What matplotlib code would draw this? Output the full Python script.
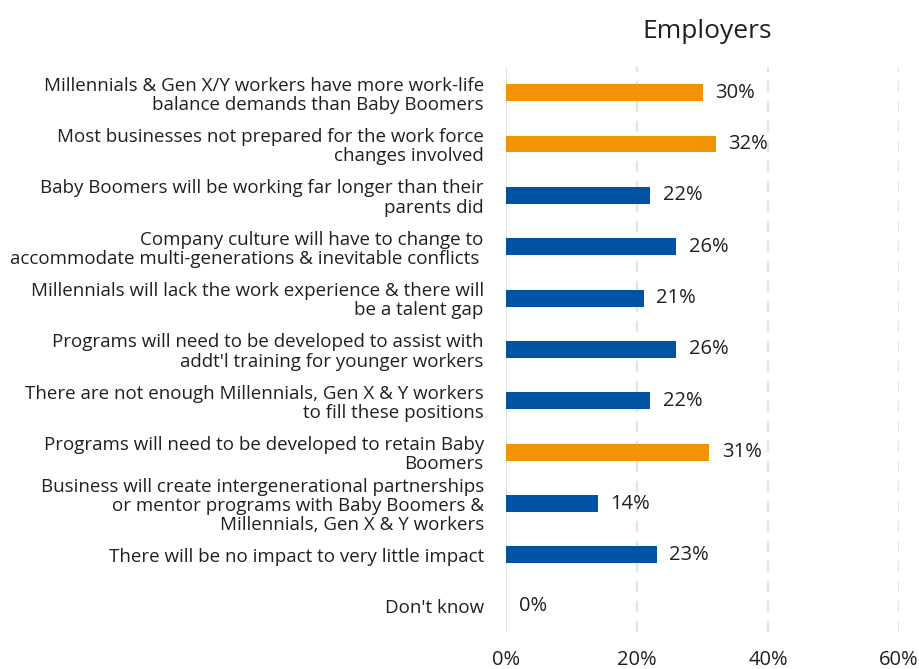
import matplotlib.pyplot as plt

plt.rcParams['font.family'] = ['Open Sans', 'DejaVu Sans']

labels = [
    "Millennials & Gen X/Y workers have more work-life\nbalance demands than Baby Boomers",
    "Most businesses not prepared for the work force\nchanges involved",
    "Baby Boomers will be working far longer than their\nparents did",
    "Company culture will have to change to\naccommodate multi-generations & inevitable conflicts ",
    "Millennials will lack the work experience & there will\nbe a talent gap",
    "Programs will need to be developed to assist with\naddt'l training for younger workers",
    "There are not enough Millennials, Gen X & Y workers\nto fill these positions",
    "Programs will need to be developed to retain Baby\nBoomers",
    "Business will create intergenerational partnerships\nor mentor programs with Baby Boomers &\nMillennials, Gen X & Y workers",
    "There will be no impact to very little impact",
    "Don't know",
]
values = [30, 32, 22, 26, 21, 26, 22, 31, 14, 23, 0]
highlight = [True, True, False, False, False, False, False, True, False, False, False]
xticks = [0, 20, 40, 60]

ORANGE = '#f29400'
BLUE = '#0052a2'
TEXT = '#231f20'

fig = plt.figure(figsize=(9.19, 6.69), dpi=100)
ax = fig.add_axes([0.5506, 0.0553, 0.4277, 0.8446])

ypos = list(range(len(labels)))
colors = [ORANGE if h else BLUE for h in highlight]
ax.barh(ypos, values, height=0.33, color=colors, zorder=3)

for y, v in zip(ypos, values):
    ax.annotate(f"{v}%", (v, y), xytext=(9, 0), textcoords='offset points',
                ha='left', va='center', fontsize=14.5, color=TEXT)

ax.set_xlim(0, 60)
ax.set_ylim(len(labels) - 0.5, -0.5)
ax.set_xticks(xticks)
ax.set_xticklabels([f"{t}%" for t in xticks], fontsize=14.5, color=TEXT)
ax.set_yticks(ypos)
ax.set_yticklabels(labels, fontsize=13.5, color=TEXT, linespacing=1.08)
ax.tick_params(axis='both', length=0)
ax.tick_params(axis='y', pad=16)
ax.tick_params(axis='x', pad=13)

for t in xticks[1:]:
    ax.axvline(t, color='#e3e3e3', linewidth=1.6, linestyle=(0, (5, 4)), zorder=1)
ax.axvline(0, color='#e3e3e3', linewidth=1.6, zorder=1)

for s in ax.spines.values():
    s.set_visible(False)

fig.text(0.769, 0.953, "Employers", ha='center', va='center', fontsize=19, color=TEXT)

fig.savefig('out.png', dpi=100)
